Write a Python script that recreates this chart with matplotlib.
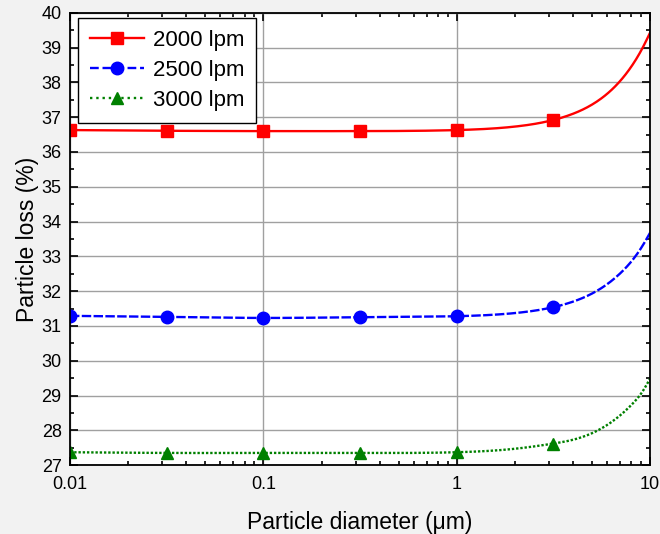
import numpy as np
import matplotlib
matplotlib.use("Agg")
import matplotlib.pyplot as plt
from matplotlib.ticker import LogLocator, FixedLocator, MultipleLocator, FuncFormatter

plt.rcParams['font.family'] = ['Liberation Sans', 'DejaVu Sans']

# marker points
diameter = [0.01, 0.0316, 0.1, 0.316, 1.0, 3.16]
loss_2000 = [36.63, 36.61, 36.60, 36.60, 36.63, 36.92]
loss_2500 = [31.29, 31.26, 31.23, 31.25, 31.28, 31.54]
loss_3000 = [27.37, 27.35, 27.35, 27.35, 27.37, 27.62]

# points along the drawn curves, also
curve_d = [0.01, 0.0316, 0.1, 0.316, 1.0, 2.0, 3.16, 4.0, 5.5, 7.0, 8.1, 9.2, 10.0]
curve_2000 = [36.63, 36.61, 36.60, 36.60, 36.63, 36.73, 36.92, 37.10, 37.51, 38.04, 38.50, 39.02, 39.43]
curve_2500 = [31.29, 31.26, 31.23, 31.25, 31.28, 31.37, 31.54, 31.70, 32.06, 32.51, 32.89, 33.33, 33.68]
curve_3000 = [27.37, 27.35, 27.35, 27.35, 27.37, 27.47, 27.62, 27.73, 28.03, 28.43, 28.76, 29.14, 29.49]
labels = ['2000 lpm', '2500 lpm', '3000 lpm']


def spline(x, y, xs):
	# natural cubic spline in log10(x), only for drawing the smooth line
	x = np.log10(np.array(x)); y = np.array(y, float); xs = np.log10(xs)
	n = len(x)
	h = np.diff(x)
	A = np.zeros((n, n)); b = np.zeros(n)
	A[0, 0] = 1; A[-1, -1] = 1
	for i in range(1, n - 1):
		A[i, i - 1] = h[i - 1]
		A[i, i] = 2 * (h[i - 1] + h[i])
		A[i, i + 1] = h[i]
		b[i] = 3 * ((y[i + 1] - y[i]) / h[i] - (y[i] - y[i - 1]) / h[i - 1])
	c = np.linalg.solve(A, b)
	out = np.empty_like(xs)
	for k, xv in enumerate(xs):
		i = min(max(np.searchsorted(x, xv) - 1, 0), n - 2)
		d = xv - x[i]
		bb = (y[i + 1] - y[i]) / h[i] - h[i] * (2 * c[i] + c[i + 1]) / 3
		dd = (c[i + 1] - c[i]) / (3 * h[i])
		out[k] = y[i] + bb * d + c[i] * d ** 2 + dd * d ** 3
	return out


fig = plt.figure(figsize=(6.6, 5.34), dpi=100, facecolor='#f2f2f2')
ax = fig.add_axes([0.106, 0.129, 0.879, 0.847])

xs = np.logspace(-2, 1, 500)
# (markers, curve, colour, line style in plot, line style in legend, marker)
series = [(loss_2000, curve_2000, 'red', '-', '-', 's'),
	(loss_2500, curve_2500, 'blue', (0, (4, 1)), '--', 'o'),
	(loss_3000, curve_3000, 'green', (0, (1, 0.8)), ':', '^')]
for (vals, cvals, col, ls, legls, mk), lab in zip(series, labels):
	ax.plot(xs, spline(curve_d, cvals, xs), color=col, ls=ls, lw=1.7)
	ax.plot(diameter, vals, color=col, ls='none', marker=mk, ms=9)
	ax.plot([], [], color=col, ls=legls, lw=1.7, marker=mk, ms=9, label=lab)

ax.set_xscale('log')
ax.set_xlim(0.01, 10)
ax.set_ylim(27, 40)
ax.xaxis.set_major_locator(FixedLocator([0.01, 0.1, 1, 10]))
ax.xaxis.set_minor_locator(LogLocator(base=10, subs=np.arange(2, 10)))
ax.xaxis.set_major_formatter(FuncFormatter(lambda v, p: '%g' % v))
ax.yaxis.set_major_locator(MultipleLocator(1))
ax.yaxis.set_minor_locator(MultipleLocator(0.5))
ax.tick_params(which='both', direction='in', top=True, right=True, labelsize=13, width=1.2)
ax.tick_params(which='major', length=6)
ax.tick_params(which='minor', length=3)
ax.tick_params(axis='x', pad=8)
ax.tick_params(axis='y', pad=6)
ax.grid(True, which='major', color='#a0a0a0', lw=1)
for s in ax.spines.values():
	s.set_linewidth(1.3)

ax.set_xlabel('Particle diameter (\u03bcm)', fontsize=16.5, labelpad=13)
ax.set_ylabel('Particle loss (%)', fontsize=16.5, labelpad=2)

leg = ax.legend(loc='upper left', fontsize=16, fancybox=False, edgecolor='black',
	framealpha=1, handlelength=2.4, handletextpad=0.4, borderpad=0.55, labelspacing=0.4,
	borderaxespad=0, bbox_to_anchor=(0.014, 0.989))
leg.get_frame().set_linewidth(1)

fig.savefig('out.png', dpi=100, facecolor=fig.get_facecolor())
